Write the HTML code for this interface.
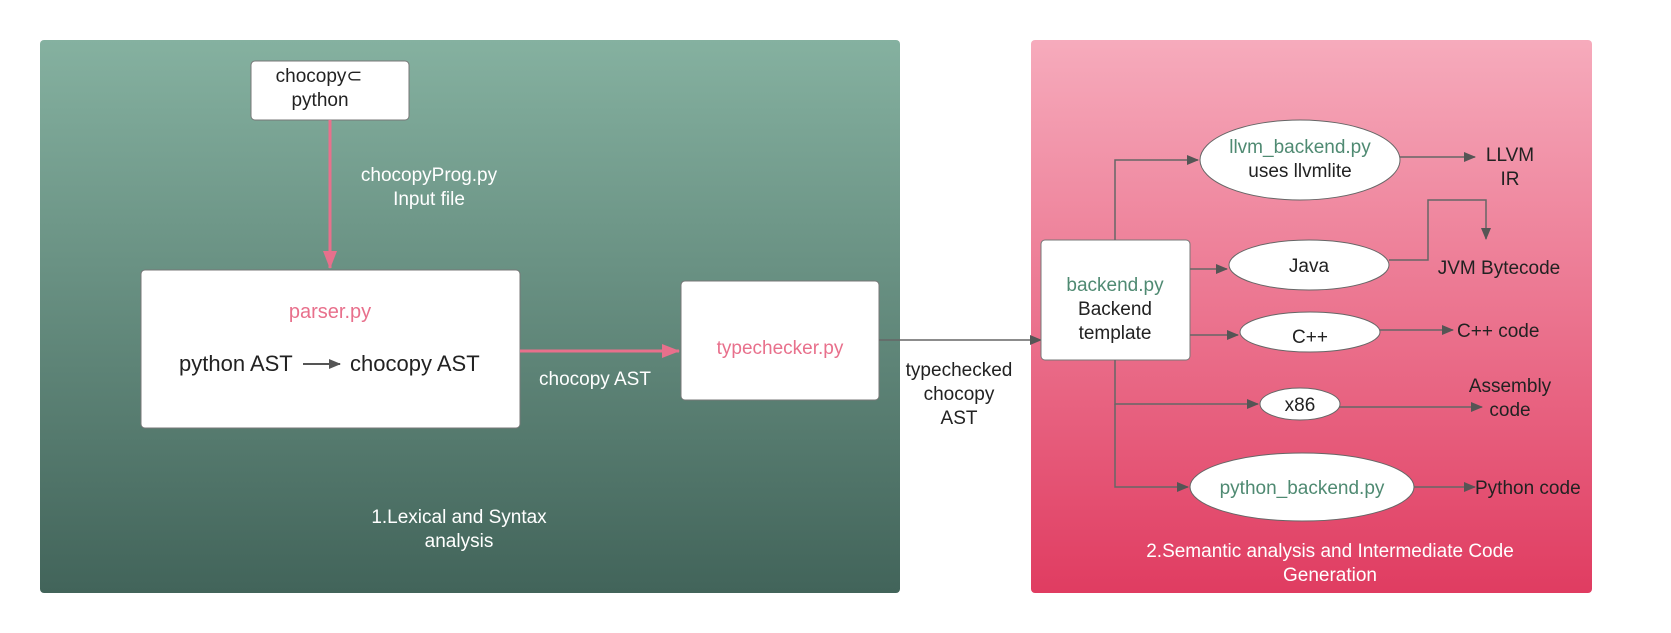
<!DOCTYPE html>
<html><head><meta charset="utf-8"><style>
html,body{margin:0;padding:0;background:#fff;}
svg{display:block;font-family:"Liberation Sans",sans-serif;}
</style></head><body>
<svg width="1671" height="633" viewBox="0 0 1671 633">
<defs>
<linearGradient id="g1" x1="0" y1="0" x2="0" y2="1"><stop offset="0" stop-color="#85b1a0"/><stop offset="1" stop-color="#42645a"/></linearGradient>
<linearGradient id="g2" x1="0" y1="0" x2="0" y2="1"><stop offset="0" stop-color="#f6abbc"/><stop offset="1" stop-color="#e03c61"/></linearGradient>
<marker id="ap" markerWidth="18" markerHeight="14" refX="17" refY="7" orient="auto" markerUnits="userSpaceOnUse"><path d="M0,0 L18,7 L0,14 z" fill="#e8708c"/></marker>
<marker id="ag" markerWidth="12" markerHeight="10" refX="11" refY="5" orient="auto" markerUnits="userSpaceOnUse"><path d="M0,0 L12,5 L0,10 z" fill="#555"/></marker>
</defs>

<rect x="40" y="40" width="860" height="553" rx="4" fill="url(#g1)"/>
<rect x="1031" y="40" width="561" height="553" rx="4" fill="url(#g2)"/>

<g font-size="19">
<rect x="251" y="61" width="158" height="59" rx="4" fill="#fff" stroke="#777"/>
<text x="319" y="82" text-anchor="middle" fill="#222">chocopy⊂</text>
<text x="320" y="106" text-anchor="middle" fill="#222">python</text>

<line x1="330" y1="120" x2="330" y2="268" stroke="#e8708c" stroke-width="3" marker-end="url(#ap)"/>
<text x="429" y="181" text-anchor="middle" fill="#fff">chocopyProg.py</text>
<text x="429" y="205" text-anchor="middle" fill="#fff">Input file</text>

<rect x="141" y="270" width="379" height="158" rx="4" fill="#fff" stroke="#777"/>
<text x="330" y="318" text-anchor="middle" fill="#e8708c" font-size="20">parser.py</text>
<text x="179" y="371" fill="#222" font-size="22">python AST</text>
<line x1="303" y1="364" x2="340" y2="364" stroke="#555" stroke-width="2" marker-end="url(#ag)"/>
<text x="350" y="371" fill="#222" font-size="22">chocopy AST</text>

<line x1="520" y1="351" x2="679" y2="351" stroke="#e8708c" stroke-width="3" marker-end="url(#ap)"/>
<text x="595" y="385" text-anchor="middle" fill="#fff">chocopy AST</text>

<rect x="681" y="281" width="198" height="119" rx="4" fill="#fff" stroke="#777"/>
<text x="780" y="354" text-anchor="middle" fill="#e8708c">typechecker.py</text>

<text x="459" y="523" text-anchor="middle" fill="#fff">1.Lexical and Syntax</text>
<text x="459" y="547" text-anchor="middle" fill="#fff">analysis</text>

<line x1="879" y1="340" x2="1041" y2="340" stroke="#666" stroke-width="1.5" marker-end="url(#ag)"/>
<text x="959" y="376" text-anchor="middle" fill="#222">typechecked</text>
<text x="959" y="400" text-anchor="middle" fill="#222">chocopy</text>
<text x="959" y="424" text-anchor="middle" fill="#222">AST</text>

<rect x="1041" y="240" width="149" height="120" rx="4" fill="#fff" stroke="#777"/>
<text x="1115" y="291" text-anchor="middle" fill="#4f8a72">backend.py</text>
<text x="1115" y="315" text-anchor="middle" fill="#222">Backend</text>
<text x="1115" y="339" text-anchor="middle" fill="#222">template</text>

<g stroke="#666" stroke-width="1.5" fill="none">
<path d="M1115,240 V160 H1198" marker-end="url(#ag)"/>
<path d="M1190,269 H1227" marker-end="url(#ag)"/>
<path d="M1190,335 H1238" marker-end="url(#ag)"/>
<path d="M1115,360 V404 H1258" marker-end="url(#ag)"/>
<path d="M1115,404 V487 H1188" marker-end="url(#ag)"/>
<path d="M1400,157 H1475" marker-end="url(#ag)"/>
<path d="M1389,260 H1428 V200 H1486 V239" marker-end="url(#ag)"/>
<path d="M1379,330 H1453" marker-end="url(#ag)"/>
<path d="M1339,407 H1482" marker-end="url(#ag)"/>
<path d="M1414,487 H1475" marker-end="url(#ag)"/>
</g>

<ellipse cx="1300" cy="160" rx="100" ry="40" fill="#fff" stroke="#666"/>
<text x="1300" y="153" text-anchor="middle" fill="#4f8a72">llvm_backend.py</text>
<text x="1300" y="177" text-anchor="middle" fill="#222">uses llvmlite</text>
<ellipse cx="1309" cy="265" rx="80" ry="25" fill="#fff" stroke="#666"/>
<text x="1309" y="272" text-anchor="middle" fill="#222">Java</text>
<ellipse cx="1310" cy="332" rx="70" ry="20" fill="#fff" stroke="#666"/>
<text x="1310" y="343" text-anchor="middle" fill="#222">C++</text>
<ellipse cx="1300" cy="404" rx="40" ry="16" fill="#fff" stroke="#666"/>
<text x="1300" y="411" text-anchor="middle" fill="#222">x86</text>
<ellipse cx="1302" cy="487" rx="112" ry="34" fill="#fff" stroke="#666"/>
<text x="1302" y="494" text-anchor="middle" fill="#4f8a72">python_backend.py</text>

<text x="1510" y="161" text-anchor="middle" fill="#222">LLVM</text>
<text x="1510" y="185" text-anchor="middle" fill="#222">IR</text>
<text x="1499" y="274" text-anchor="middle" fill="#222">JVM Bytecode</text>
<text x="1457" y="337" fill="#222">C++ code</text>
<text x="1510" y="392" text-anchor="middle" fill="#222">Assembly</text>
<text x="1510" y="416" text-anchor="middle" fill="#222">code</text>
<text x="1475" y="494" fill="#222">Python code</text>

<text x="1330" y="557" text-anchor="middle" fill="#fff">2.Semantic analysis and Intermediate Code</text>
<text x="1330" y="581" text-anchor="middle" fill="#fff">Generation</text>
</g>
</svg>
</body></html>
